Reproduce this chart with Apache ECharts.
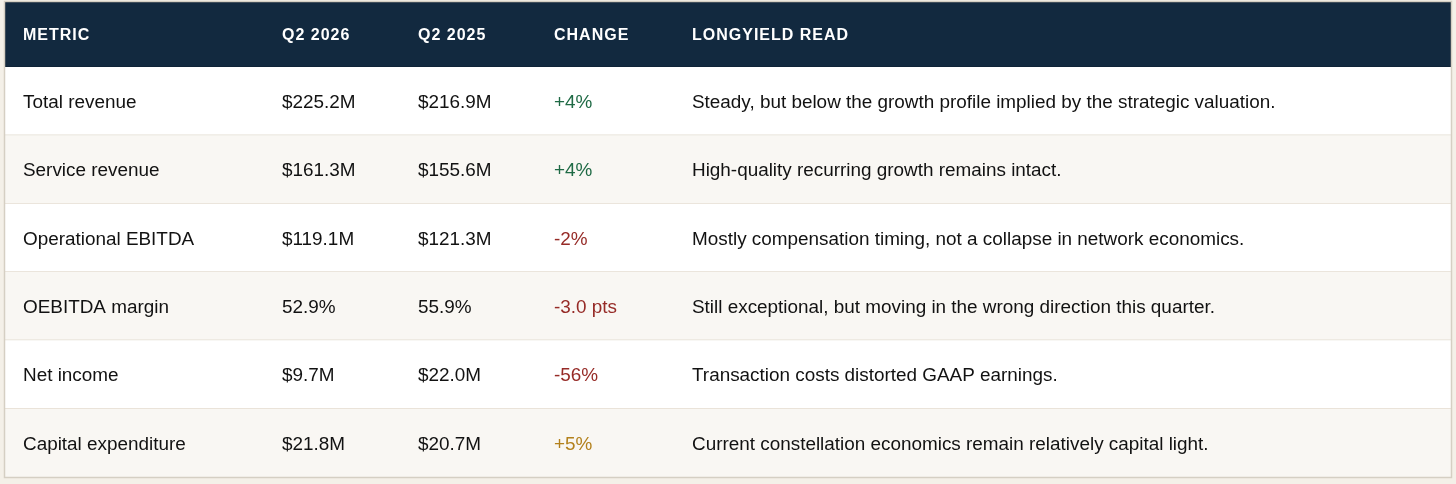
<!DOCTYPE html>
<html>
<head>
<meta charset="utf-8">
<script src="https://cdn.jsdelivr.net/npm/echarts@6/dist/echarts.min.js"></script>
<style>
html,body{margin:0;padding:0;background:#f4f0e8;}
#chart{width:1456px;height:484px;}
</style>
</head>
<body>
<div id="chart"></div>
<script>
// ---- data ----
const headers = ['METRIC', 'Q2 2026', 'Q2 2025', 'CHANGE', 'LONGYIELD READ'];
const metrics = ['Total revenue', 'Service revenue', 'Operational EBITDA', 'OEBITDA margin', 'Net income', 'Capital expenditure'];
const q2026 = ['$225.2M', '$161.3M', '$119.1M', '52.9%', '$9.7M', '$21.8M'];
const q2025 = ['$216.9M', '$155.6M', '$121.3M', '55.9%', '$22.0M', '$20.7M'];
const changes = ['+4%', '+4%', '-2%', '-3.0 pts', '-56%', '+5%'];
const changeTone = ['good', 'good', 'bad', 'bad', 'bad', 'watch'];
const reads = [
  'Steady, but below the growth profile implied by the strategic valuation.',
  'High-quality recurring growth remains intact.',
  'Mostly compensation timing, not a collapse in network economics.',
  'Still exceptional, but moving in the wrong direction this quarter.',
  'Transaction costs distorted GAAP earnings.',
  'Current constellation economics remain relatively capital light.'
];

// ---- layout / style ----
const TABLE_LEFT = 5, TABLE_RIGHT = 1451, TABLE_TOP = 2, HEADER_BOTTOM = 67, TABLE_BOTTOM = 477;
const colX = [18, 277, 413, 549, 687]; // offsets from table left
const toneColor = { good: '#1f6a45', bad: '#962b27', watch: '#b3811c' };
const FONT_FAMILY = '"Liberation Sans", Arial, Helvetica, sans-serif';
const bodyFont = '18.9px ' + FONT_FAMILY;
const headFont = 'bold 16px ' + FONT_FAMILY;
const headSpacing = 1;

const measureCtx = document.createElement('canvas').getContext('2d');
function spacedText(str, x, y, font, ls, color) {
  measureCtx.font = font;
  const out = [];
  for (let i = 0; i < str.length; i++) {
    const ch = str[i];
    if (ch === ' ') continue;
    const px = x + measureCtx.measureText(str.slice(0, i)).width + i * ls;
    out.push({
      type: 'text', silent: true,
      style: { text: ch, x: px, y: y, font: font, fill: color, align: 'left', verticalAlign: 'middle' }
    });
  }
  return out;
}

const headerChildren = [{
  type: 'rect',
  shape: { x: TABLE_LEFT, y: TABLE_TOP, width: TABLE_RIGHT - TABLE_LEFT, height: HEADER_BOTTOM - TABLE_TOP },
  style: { fill: '#12293f', stroke: '#0c1f31', lineWidth: 1 }
}];
headers.forEach((h, c) => {
  headerChildren.push(...spacedText(h, TABLE_LEFT + colX[c], (TABLE_TOP + HEADER_BOTTOM) / 2 + 1, headFont, headSpacing, '#ffffff'));
});

const chart = echarts.init(document.getElementById('chart'), null, { renderer: 'canvas' });

function renderRow(params, api) {
  const i = params.dataIndex;
  const cs = params.coordSys;
  const yc = api.coord([0, i])[1];
  const h = api.size([0, 1])[1];
  const top = yc - h / 2;
  const x0 = cs.x;
  const cells = [metrics[i], q2026[i], q2025[i], changes[i], reads[i]];
  const children = [{
    type: 'rect',
    shape: { x: x0, y: top, width: cs.width, height: h },
    style: { fill: i % 2 === 0 ? '#ffffff' : '#f9f7f3' }
  }];
  if (i < metrics.length - 1) {
    children.push({
      type: 'line',
      shape: { x1: x0, y1: top + h, x2: x0 + cs.width, y2: top + h },
      style: { stroke: '#e4ddd1', lineWidth: 1.5 }
    });
  }
  cells.forEach((t, c) => {
    children.push({
      type: 'text',
      style: {
        text: t, x: x0 + colX[c], y: yc + 1.5,
        font: bodyFont,
        fill: c === 3 ? toneColor[changeTone[i]] : '#121212',
        align: 'left', verticalAlign: 'middle'
      }
    });
  });
  return { type: 'group', children: children };
}

chart.setOption({
  backgroundColor: '#f4f0e8',
  animation: false,
  grid: { left: TABLE_LEFT, right: 1456 - TABLE_RIGHT, top: HEADER_BOTTOM, bottom: 484 - TABLE_BOTTOM },
  xAxis: { type: 'value', min: 0, max: TABLE_RIGHT - TABLE_LEFT, show: false },
  yAxis: { type: 'category', data: metrics, inverse: true, show: false },
  series: [{
    type: 'custom',
    renderItem: renderRow,
    data: metrics.map((m, i) => [0, i]),
    encode: { x: 0, y: 1 },
    clip: false,
    silent: true
  }],
  graphic: [
    { type: 'group', z: 10, silent: true, children: headerChildren },
    {
      type: 'rect', z: 11, silent: true,
      shape: { x: TABLE_LEFT - 0.5, y: TABLE_TOP - 0.5, width: TABLE_RIGHT - TABLE_LEFT + 1, height: TABLE_BOTTOM - TABLE_TOP + 1 },
      style: { fill: 'none', stroke: '#d5cfc3', lineWidth: 1.5 }
    }
  ]
});
</script>
</body>
</html>
